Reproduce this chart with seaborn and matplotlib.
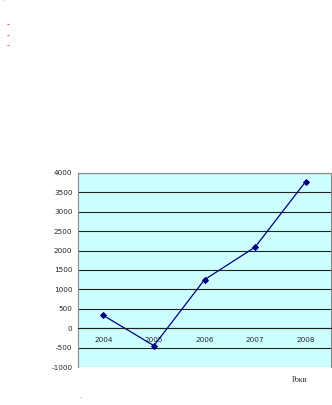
import matplotlib
matplotlib.use("Agg")
import matplotlib.pyplot as plt
import seaborn as sns
import pandas as pd

years = ["2004", "2005", "2006", "2007", "2008"]
values = [330, -450, 1250, 2090, 3780]
yticks = [-1000, -500, 0, 500, 1000, 1500, 2000, 2500, 3000, 3500, 4000]
xlabel = "Роки"

sns.set_style("white")
plt.rcParams['font.family'] = ['DejaVu Sans']

df = pd.DataFrame({"year": years, "value": values})

fig = plt.figure(figsize=(3.32, 4.05), dpi=100)
ax = fig.add_axes([78/332, 38/405, 253/332, 194/405])
ax.set_facecolor("#CCFFFF")

sns.lineplot(data=df, x="year", y="value", ax=ax, color="#000080",
             marker="D", markersize=3, markeredgecolor="#000080", linewidth=0.9,
             sort=False)

ax.set_xlim(-0.5, len(years) - 0.5)
ax.set_ylim(yticks[0], yticks[-1])
ax.set_yticks(yticks)
ax.set_yticklabels([str(v) for v in yticks], fontsize=5.2)
for v in yticks:
    ax.axhline(v, color="#222222", linewidth=0.8, zorder=0.5)

# category axis crossing at zero
ax.spines['bottom'].set_position(('data', 0))
ax.spines['bottom'].set_color("#222222")
ax.spines['bottom'].set_linewidth(0.8)
ax.set_xticks(range(len(years)))
ax.set_xticklabels(years, fontsize=5.2)
ax.tick_params(axis='x', which='major', length=0, pad=6)
ax.set_xticks([i + 0.5 for i in range(len(years) - 1)], minor=True)
ax.tick_params(axis='x', which='minor', length=2, direction='out', color="#222222")
ax.tick_params(axis='y', length=2.5, direction='out', pad=1.5, color="#444444")
for s in ['left', 'top', 'right']:
    ax.spines[s].set_color("#888888")
    ax.spines[s].set_linewidth(0.8)
ax.set_xlabel("")
ax.set_ylabel("")

fig.text(300/332, 1 - 380/405, xlabel, fontsize=5.5, ha='center', va='center',
         family=['Liberation Serif', 'DejaVu Serif'])

for yy in (25, 36, 46):
    fig.text(8/332, 1 - yy/405, "-", color="#FF4040", fontsize=5, fontweight='bold',
             ha='center', va='center')
fig.text(1/332, 1 - 2/405, "°", color="#888888", fontsize=4, ha='left', va='center')
fig.text(81/332, 1 - 398/405, "-", color="#666666", fontsize=4, ha='center', va='center')

fig.savefig("out.png", dpi=100)
